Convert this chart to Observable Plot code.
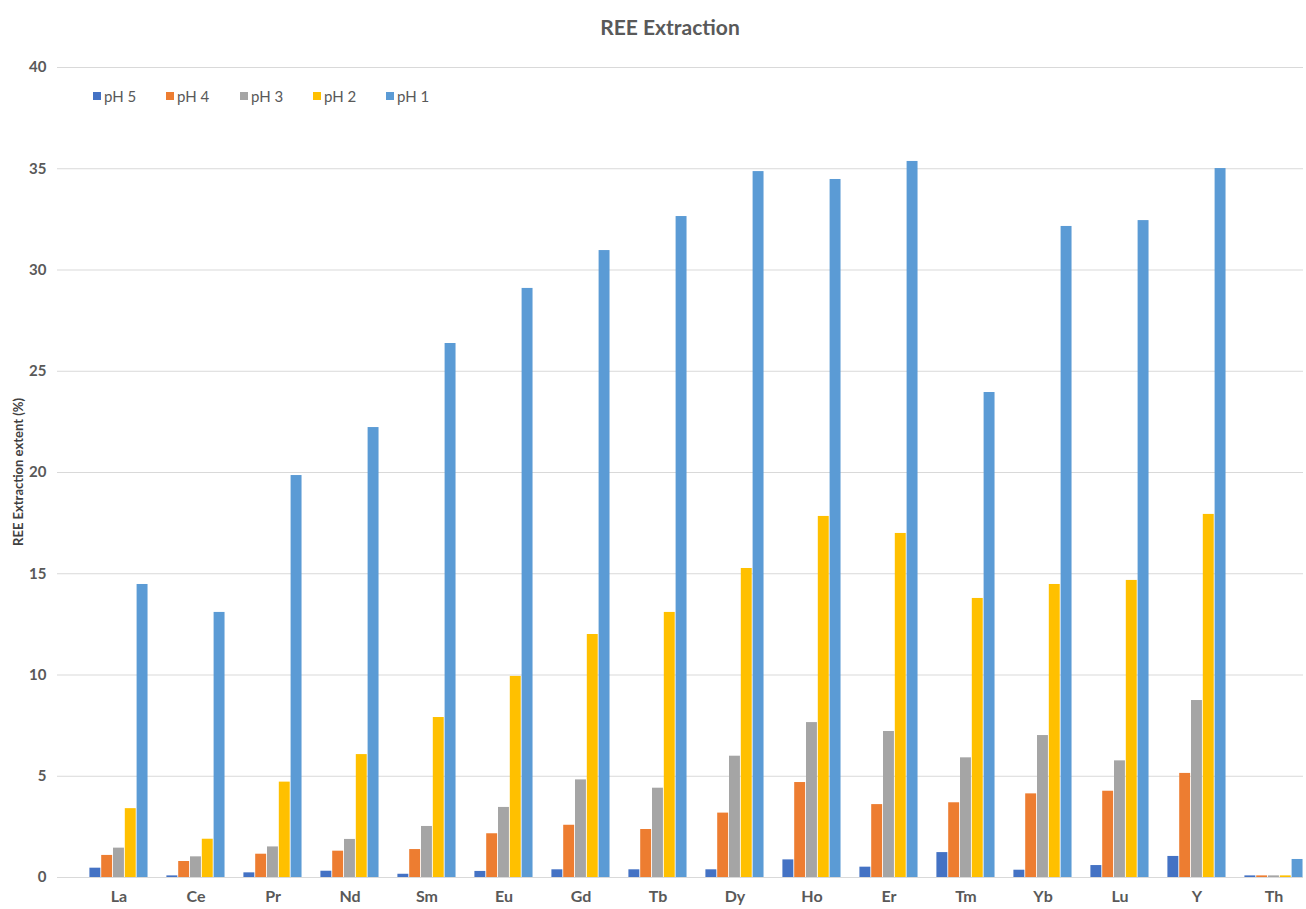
<!DOCTYPE html>
<html>
<head>
<meta charset="utf-8">
<script src="https://cdn.jsdelivr.net/npm/d3@7"></script>
<script src="https://cdn.jsdelivr.net/npm/@observablehq/plot@0.6"></script>
<style>
  html, body { margin: 0; padding: 0; background: #fff; }
  #wrap { position: relative; width: 1306px; height: 909px; overflow: hidden; font-family: Lato, "Open Sans", sans-serif; }
  #title { position: absolute; left: 0; width: 1340px; top: 14px; text-align: center; font-size: 21px; font-weight: 700; color: #595959; }
  #chart { position: absolute; left: 0; top: 45px; }
  #legend { position: absolute; top: 87px; left: 0; height: 20px; }
  .item { position: absolute; top: 0; display: flex; align-items: center; font-size: 15px; color: #595959; white-space: nowrap; }
  .sw { width: 8px; height: 8px; margin-right: 3px; }
  #ylab { position: absolute; left: 18px; top: 472px; transform: translate(-50%, -50%) rotate(-90deg); font-size: 13px; font-weight: 700; color: #404040; white-space: nowrap; }
</style>
</head>
<body>
<div id="wrap">
  <div id="title">REE Extraction</div>
  <div id="chart"></div>
  <div id="legend"></div>
  <div id="ylab">REE Extraction extent (%)</div>
</div>
<script>
const elements = ["La","Ce","Pr","Nd","Sm","Eu","Gd","Tb","Dy","Ho","Er","Tm","Yb","Lu","Y","Th"];
const seriesNames = ["pH 5","pH 4","pH 3","pH 2","pH 1"];
const seriesColors = ["#4472C4","#ED7D31","#A5A5A5","#FFC000","#5B9BD5"];
const pH5 = [0.46,0.08,0.23,0.31,0.16,0.30,0.38,0.38,0.38,0.87,0.51,1.23,0.36,0.59,1.04,0.08];
const pH4 = [1.09,0.79,1.15,1.30,1.38,2.16,2.58,2.37,3.18,4.69,3.60,3.69,4.13,4.26,5.14,0.08];
const pH3 = [1.45,1.02,1.51,1.88,2.52,3.46,4.82,4.41,5.99,7.65,7.21,5.91,7.01,5.76,8.74,0.08];
const pH2 = [3.40,1.89,4.71,6.07,7.90,9.93,12.00,13.09,15.26,17.83,16.99,13.78,14.47,14.67,17.93,0.08];
const pH1 = [14.47,13.09,19.85,22.22,26.37,29.09,30.96,32.64,34.86,34.47,35.36,23.95,32.15,32.44,35.01,0.89];
const yTicks = [0,5,10,15,20,25,30,35,40];

const seriesValues = [pH5, pH4, pH3, pH2, pH1];
const data = [];
seriesNames.forEach((s, i) => elements.forEach((e, j) => data.push({element: e, series: s, value: seriesValues[i][j]})));

const step = 77.87, barW = 11.8, groupOff = 9.4;
const bars = seriesNames.map((s, i) => Plot.barY(data.filter(d => d.series === s), {
  x: "element", y: "value", fill: seriesColors[i],
  insetLeft: groupOff + barW * i,
  insetRight: step - groupOff - barW * (i + 1)
}));

const chart = Plot.plot({
  width: 1306,
  height: 864,
  marginLeft: 57,
  marginRight: 3,
  marginTop: 22,
  marginBottom: 32,
  style: {fontFamily: "Lato, 'Open Sans', sans-serif", background: "#fff", overflow: "hidden"},
  x: {type: "band", domain: elements, range: [72.6, 72.6 + step * 16], padding: 0},
  y: {domain: [0, 40]},
  marks: [
    Plot.ruleY(yTicks, {stroke: "#d9d9d9", strokeWidth: 1}),
    ...bars,
    Plot.axisY({ticks: yTicks, tickSize: 0, tickPadding: 11, label: null, fontSize: 15, fontWeight: 700, fill: "#595959"}),
    Plot.axisX({tickSize: 0, tickPadding: 13, label: null, fontSize: 16, fontWeight: 700, fill: "#595959"})
  ]
});
document.getElementById("chart").appendChild(chart);

const legend = document.getElementById("legend");
const legendX = [93, 166, 240, 313, 386];
seriesNames.forEach((s, i) => {
  const it = document.createElement("div");
  it.className = "item";
  it.style.left = legendX[i] + "px";
  it.innerHTML = `<span class="sw" style="background:${seriesColors[i]}"></span><span>${s}</span>`;
  legend.appendChild(it);
});
</script>
</body>
</html>
